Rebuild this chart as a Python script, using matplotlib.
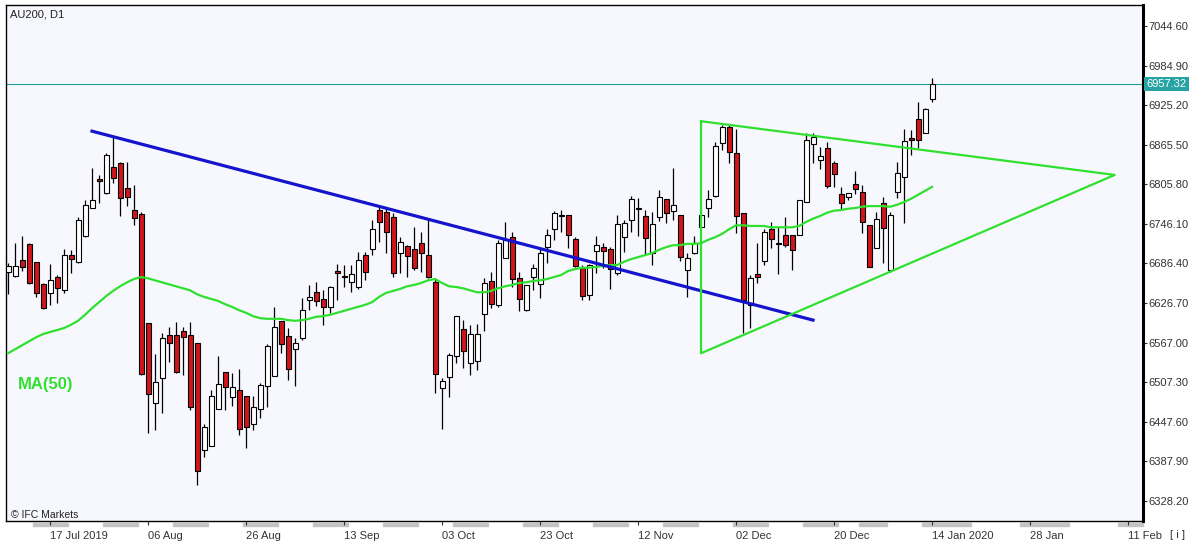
import numpy as np
import pandas as pd
import matplotlib
matplotlib.use("Agg")
import matplotlib.pyplot as plt
from matplotlib.transforms import blended_transform_factory

plt.rcParams["font.family"] = ["Liberation Sans", "DejaVu Sans"]

# AU200 daily candles, 09 Jul 2019 - 14 Jan 2020
opens = [6674, 6668, 6692, 6716, 6689, 6656, 6642, 6666, 6646, 6699,
         6689, 6728, 6770, 6814, 6793, 6832, 6838, 6800, 6767, 6761,
         6597, 6476, 6514, 6579, 6579, 6585, 6579, 6567, 6405, 6411,
         6467, 6523, 6485, 6496, 6487, 6444, 6467, 6502, 6517, 6600,
         6577, 6557, 6574, 6631, 6643, 6633, 6621, 6675, 6666, 6659,
         6651, 6699, 6708, 6767, 6764, 6757, 6702, 6713, 6708, 6717,
         6699, 6659, 6499, 6515, 6547, 6588, 6536, 6539, 6610, 6660,
         6624, 6695, 6726, 6665, 6616, 6666, 6656, 6711, 6738, 6758,
         6760, 6723, 6680, 6639, 6705, 6711, 6708, 6672, 6726, 6752,
         6769, 6758, 6702, 6757, 6784, 6766, 6760, 6677, 6702, 6741,
         6770, 6788, 6868, 6892, 6853, 6763, 6624, 6671, 6690, 6738,
         6716, 6729, 6729, 6729, 6779, 6867, 6842, 6861, 6838, 6791,
         6787, 6806, 6794, 6745, 6710, 6778, 6677, 6794, 6817, 6876,
         6904, 6883, 6935]
highs = [6687, 6717, 6728, 6717, 6689, 6657, 6686, 6669, 6708, 6707,
         6757, 6782, 6830, 6820, 6853, 6877, 6840, 6840, 6805, 6764,
         6597, 6550, 6582, 6591, 6598, 6591, 6598, 6567, 6444, 6496,
         6547, 6523, 6521, 6527, 6487, 6487, 6506, 6565, 6621, 6600,
         6589, 6574, 6634, 6654, 6659, 6646, 6653, 6686, 6684, 6684,
         6704, 6704, 6752, 6772, 6770, 6763, 6726, 6714, 6741, 6734,
         6754, 6665, 6514, 6551, 6607, 6601, 6594, 6595, 6665, 6674,
         6722, 6749, 6734, 6674, 6654, 6686, 6708, 6738, 6766, 6767,
         6760, 6726, 6684, 6686, 6728, 6717, 6711, 6760, 6752, 6788,
         6785, 6767, 6764, 6797, 6784, 6830, 6760, 6702, 6728, 6760,
         6797, 6870, 6895, 6895, 6889, 6763, 6669, 6717, 6738, 6749,
         6741, 6757, 6729, 6782, 6883, 6883, 6862, 6870, 6841, 6802,
         6793, 6826, 6805, 6745, 6764, 6787, 6764, 6840, 6889, 6888,
         6930, 6921, 6966]
lows = [6640, 6666, 6675, 6656, 6636, 6618, 6624, 6627, 6642, 6672,
        6687, 6726, 6770, 6778, 6791, 6808, 6758, 6773, 6745, 6518,
        6431, 6435, 6461, 6538, 6521, 6518, 6465, 6352, 6395, 6411,
        6467, 6465, 6472, 6428, 6408, 6435, 6453, 6470, 6517, 6551,
        6511, 6502, 6571, 6616, 6622, 6594, 6612, 6631, 6651, 6643,
        6648, 6662, 6699, 6719, 6702, 6666, 6672, 6666, 6677, 6674,
        6665, 6491, 6437, 6485, 6536, 6529, 6518, 6526, 6585, 6619,
        6621, 6695, 6651, 6615, 6615, 6646, 6634, 6687, 6722, 6734,
        6710, 6681, 6631, 6631, 6672, 6680, 6648, 6669, 6704, 6734,
        6728, 6701, 6684, 6751, 6748, 6752, 6690, 6636, 6701, 6741,
        6756, 6787, 6858, 6838, 6732, 6582, 6589, 6657, 6684, 6710,
        6671, 6711, 6677, 6729, 6779, 6838, 6829, 6800, 6802, 6767,
        6782, 6791, 6732, 6681, 6710, 6687, 6674, 6785, 6748, 6850,
        6861, 6883, 6930]
closes = [6683, 6683, 6681, 6657, 6642, 6619, 6662, 6649, 6699, 6693,
          6752, 6775, 6782, 6811, 6850, 6815, 6785, 6787, 6755, 6520,
          6490, 6508, 6574, 6567, 6523, 6576, 6470, 6373, 6440, 6487,
          6505, 6500, 6500, 6437, 6440, 6470, 6503, 6562, 6591, 6565,
          6527, 6567, 6616, 6636, 6630, 6621, 6651, 6672, 6666, 6671,
          6692, 6674, 6738, 6749, 6734, 6672, 6719, 6698, 6680, 6702,
          6666, 6520, 6509, 6548, 6607, 6554, 6580, 6580, 6657, 6625,
          6717, 6722, 6663, 6633, 6654, 6680, 6702, 6729, 6763, 6758,
          6729, 6683, 6637, 6684, 6714, 6705, 6678, 6746, 6748, 6784,
          6769, 6725, 6746, 6787, 6763, 6775, 6696, 6695, 6717, 6760,
          6784, 6864, 6892, 6855, 6758, 6631, 6665, 6666, 6734, 6723,
          6716, 6714, 6707, 6782, 6873, 6877, 6848, 6803, 6821, 6778,
          6793, 6799, 6749, 6681, 6753, 6740, 6760, 6823, 6871, 6873,
          6873, 6919, 6957.32]
ma50 = [6551, 6557, 6563, 6569, 6575, 6580, 6583, 6586, 6589, 6594,
        6600, 6609, 6619, 6628, 6637, 6645, 6652, 6658, 6663, 6666,
        6664, 6661, 6658, 6655, 6652, 6649, 6646, 6640, 6636, 6633,
        6630, 6625, 6621, 6616, 6612, 6607, 6604, 6603, 6603, 6603,
        6601, 6600, 6601, 6603, 6606, 6607, 6609, 6612, 6615, 6618,
        6621, 6624, 6628, 6636, 6642, 6645, 6648, 6652, 6654, 6657,
        6661, 6663, 6657, 6652, 6651, 6649, 6646, 6643, 6643, 6645,
        6649, 6652, 6654, 6657, 6658, 6660, 6661, 6663, 6666, 6669,
        6675, 6678, 6680, 6680, 6681, 6683, 6684, 6684, 6689, 6693,
        6696, 6699, 6702, 6707, 6711, 6714, 6714, 6716, 6716, 6717,
        6722, 6726, 6731, 6738, 6744, 6744, 6743, 6743, 6743, 6741,
        6741, 6741, 6741, 6743, 6749, 6754, 6758, 6763, 6766, 6767,
        6769, 6770, 6772, 6773, 6773, 6773, 6772, 6775, 6779, 6784,
        6790, 6796, 6802]
last_price = 6957.32

y_ticks = [6328.20, 6387.90, 6447.60, 6507.30, 6567.00, 6626.70, 6686.40,
           6746.10, 6805.80, 6865.50, 6925.20, 6984.90, 7044.60]
x_tick_pos = [6, 20, 34, 48, 62, 76, 90, 104, 118, 132, 146, 160]
x_tick_labels = ["17 Jul 2019", "06 Aug", "26 Aug", "13 Sep", "03 Oct", "23 Oct",
                 "12 Nov", "02 Dec", "20 Dec", "14 Jan 2020", "28 Jan", "11 Feb"]

# drawn trend lines (bar index, price)
blue_x = [12, 115]
blue_y = [6886, 6601]
tri_x = [99, 99, 158.1, 99]
tri_y = [6901, 6551, 6820, 6901]

holidays = pd.to_datetime(["2019-12-25", "2019-12-26", "2020-01-01"])
dates = pd.bdate_range("2019-07-09", "2020-01-14")
dates = dates[~dates.isin(holidays)]

RED = "#d0161b"
LIME = "#2fe02f"
TEAL = "#1f9c9c"

fig = plt.figure(figsize=(11.94, 5.45), dpi=100)
fig.patch.set_facecolor("white")
ax = fig.add_axes([6 / 1194, 24 / 545, 1137 / 1194, 516 / 545])
ax.set_facecolor("#f7f8fe")

x = np.arange(len(opens))
o = np.array(opens)
c = np.array(closes)
up = c >= o

ax.vlines(x, lows, highs, color="black", lw=0.9, zorder=2)
body_lo = np.minimum(o, c)
body_h = np.maximum(np.abs(c - o), 0.8)
ax.bar(x, body_h, bottom=body_lo, width=0.72,
       color=np.where(up, "white", RED), edgecolor="black", linewidth=0.8, zorder=3)

ax.plot(x, ma50, color=LIME, lw=1.6, zorder=4)
ax.plot(blue_x, blue_y, color="#1414cc", lw=2.3, zorder=5)
ax.plot(tri_x, tri_y, color=LIME, lw=1.6, zorder=5)

ax.axhline(last_price, color=TEAL, lw=0.8, zorder=1)

ax.set_xlim(-0.29, 162.14)
ax.set_ylim(6298.0, 7076.3)

ax.yaxis.tick_right()
ax.set_yticks(y_ticks)
ax.set_yticklabels([f"{v:.2f}" for v in y_ticks])
ax.tick_params(axis="y", length=3, width=0.8, labelsize=8, colors="#333333", pad=1)
ax.set_xticks(x_tick_pos)
ax.set_xticklabels(x_tick_labels, ha="left")
ax.tick_params(axis="x", length=3, width=0.8, labelsize=8, colors="#333333", pad=4)

for side in ["left", "top", "bottom"]:
    ax.spines[side].set_linewidth(1.0)
ax.spines["right"].set_linewidth(2.2)

# alternating week strips below the time axis
tr = blended_transform_factory(ax.transData, ax.transAxes)
start_week = pd.Timestamp("2019-07-29")
shaded = []
for i, d in enumerate(dates):
    if ((d - start_week).days // 7) % 2 == 0:
        shaded.append(i)
for k in range(1, 35):
    d = dates[-1] + pd.Timedelta(days=k)
    if ((d - start_week).days // 7) % 2 == 0:
        shaded.append(len(dates) - 1 + k)
runs = []
for i in shaded:
    if runs and i == runs[-1][1] + 1:
        runs[-1][1] = i
    else:
        runs.append([i, i])
for a, b in runs:
    a0 = max(a - 0.5, -0.29)
    b0 = min(b + 0.5, 162.14)
    if b0 > a0:
        ax.add_patch(plt.Rectangle((a0, -0.009), b0 - a0, 0.006, transform=tr,
                                   color="#c4c4c4", clip_on=False, zorder=0))

# price tag
tr_y = blended_transform_factory(ax.transAxes, ax.transData)
ax.text(1.003, last_price, f"{last_price:.2f}", transform=tr_y, fontsize=8,
        color="white", va="center", ha="left",
        bbox=dict(boxstyle="square,pad=0.2", fc="#27a3a3", ec="none"))

ax.text(0.0035, 0.981, "AU200, D1", transform=ax.transAxes, fontsize=8,
        color="#222222", va="center", ha="left")
ax.text(0.0106, 0.264, "MA(50)", transform=ax.transAxes, fontsize=12,
        fontweight="bold", color=LIME, va="center", ha="left")
ax.text(0.004, 0.012, "© IFC Markets", transform=ax.transAxes, fontsize=7.5,
        color="#222222", va="center", ha="left")
fig.text(1170 / 1194, 1 - 535 / 545, "[ i ]", fontsize=8, color="#333333",
         va="center", ha="left")

fig.savefig("out.png", dpi=100)
